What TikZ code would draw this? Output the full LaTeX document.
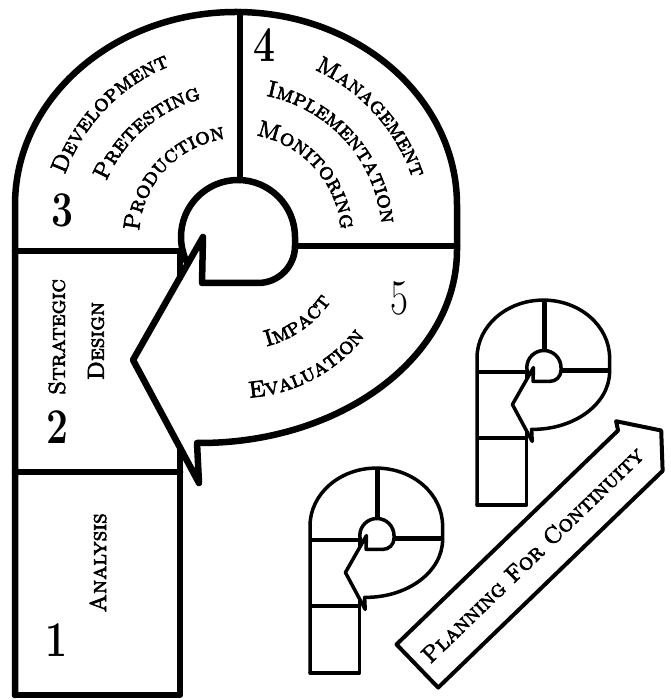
\documentclass[tikz,border=0pt]{standalone}
\usepackage{fontspec}
\usetikzlibrary{decorations.text}
\newfontfamily\scfont{lmromancaps10-regular.otf}[FakeBold=3]
\newcommand\lab{\fontsize{23}{23}\selectfont\scfont}
\newcommand\numf{\fontsize{50}{50}\selectfont\bfseries}
\tikzset{
  Pline/.style={line width=6.5pt, line join=round, line cap=round},
  Pdiv/.style={line width=6.5pt, line cap=round},
  arctext/.style={decorate, decoration={text along path, text align=center, text={#1}}},
  num/.style={font=\numf, inner sep=0pt, xscale=0.78},
  boxlab/.style={font=\lab, inner sep=0pt, rotate=90},
  abox/.style={line width=4pt, line join=round},
  pshape/.pic={
    \draw[Pline] (15,5) -- (15,495)
      arc[start angle=180, end angle=0, x radius=221, y radius=193]
      -- (457,450)
      arc[start angle=0, end angle=-90, x radius=257, y radius=193]
      -- (197,257) -- (199,217) -- (133,340) -- (203,463) -- (202,417) -- (258,417)
      arc[start angle=-90, end angle=0, radius=37]
      -- (295,463)
      arc[start angle=0, end angle=208, radius=57];
    \draw[Pline] (15,5) -- (180,5) -- (180,252.4);
    \draw[Pline] (180,449) -- (180,422.6);
    \draw[Pdiv] (15,449) -- (183,449);
    \draw[Pdiv] (15,228) -- (180,228);
    \draw[Pdiv] (295,454) -- (457,454);
    \draw[Pdiv] (240,688) -- (240,520);
  }
}
\begin{document}
\begin{tikzpicture}[x=1pt,y=1pt]
\useasboundingbox (0,0) rectangle (670,700);
\fill[white] (0,0) rectangle (670,700);

% main P
\pic (mainP) at (0,0) {pshape};
% small copies
\pic[scale=0.3, Pline/.style={line width=3.5pt, line join=round, line cap=round}, Pdiv/.style={line width=4.5pt}] (smallA) at (305.5,25.5) {pshape};
\pic[scale=0.3, Pline/.style={line width=3.5pt, line join=round, line cap=round}, Pdiv/.style={line width=4.5pt}] (smallB) at (472.5,193.5) {pshape};

% numbers
\node[num] (n1) at (56,60) {1};
\node[num] (n2) at (57,273) {2};
\node[num] (n3) at (62,490) {3};
\node[num] (n4) at (264,655) {4};
\node[num, font=\fontsize{50}{50}\selectfont] (n5) at (399,402) {5};

% box labels
\node[boxlab] (strat) at (57,363) {Strategic};
\node[boxlab] (design) at (96,359) {Design};
\node[boxlab] (analysis) at (98,137) {Analysis};

% curved labels region 3
\path[arctext={|\lab|Development}] ([shift={(238,463)}]196:184) arc[start angle=196, end angle=76, radius=184];
\path[arctext={|\lab|Pretesting}] ([shift={(238,463)}]201:143) arc[start angle=201, end angle=61, radius=143];
\path[arctext={|\lab|Production}] ([shift={(238,463)}]217:99) arc[start angle=217, end angle=57, radius=99];
% region 4
\path[arctext={|\lab|Management}] ([shift={(238,463)}]102:184) arc[start angle=102, end angle=-18, radius=184];
\path[arctext={|\lab|Implementation}] ([shift={(238,463)}]112:144) arc[start angle=112, end angle=-28, radius=144];
\path[arctext={|\lab|Monitoring}] ([shift={(238,463)}]122:103) arc[start angle=122, end angle=-38, radius=103];
% region 5
\path[arctext={|\lab|Impact}] ([shift={(238,463)}]-125:113) arc[start angle=-125, end angle=15, radius=113];
\path[arctext={|\lab|Evaluation}] ([shift={(238,463)}]-132:161) arc[start angle=-132, end angle=8, radius=161];

% planning arrow
\begin{scope}[shift={(531,143.75)}, rotate=44]
  \draw[abox] (-158,-30) -- (154,-30) -- (181,0) -- (155,38) -- (150,30) -- (-158,30) -- cycle;
  \node[font=\lab, inner sep=0pt, rotate=44] (pfc) at (2,0) {Planning For Continuity};
\end{scope}
\end{tikzpicture}
\end{document}
